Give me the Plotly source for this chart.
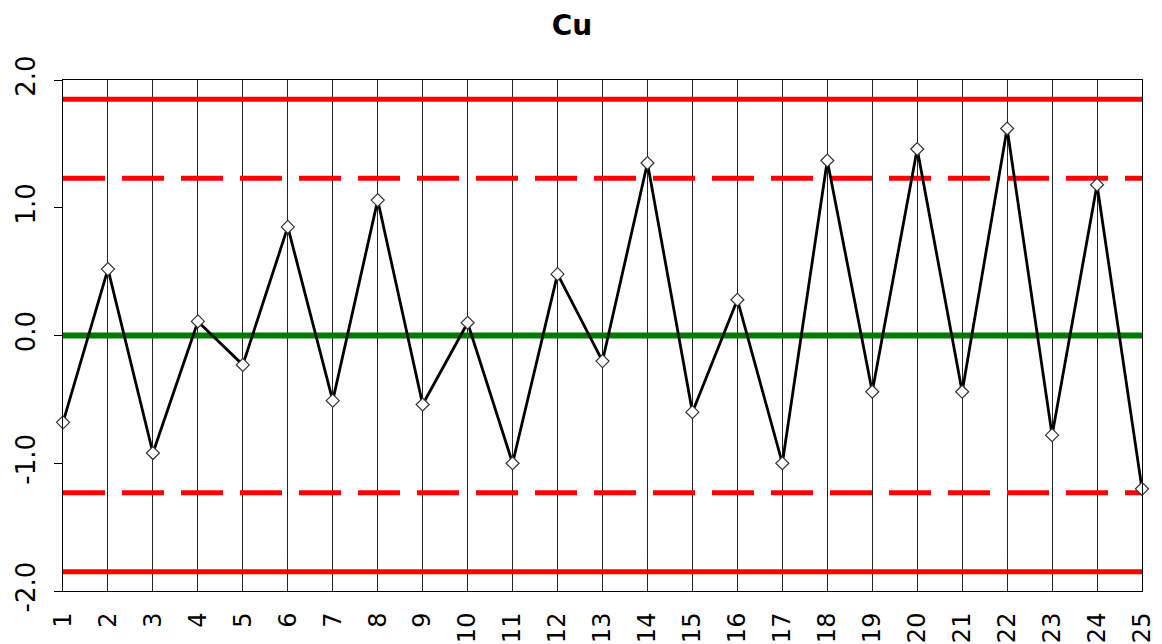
import plotly.graph_objects as go

# Sample numbers and standardised Cu results
samples = list(range(1, 26))
cu_values = [-0.68, 0.52, -0.92, 0.11, -0.23, 0.85, -0.51, 1.06, -0.54, 0.10,
             -1.00, 0.48, -0.20, 1.35, -0.60, 0.28, -1.00, 1.37, -0.44, 1.46,
             -0.44, 1.62, -0.78, 1.18, -1.20]

# Control limits
center_line = 0.0
warning_limit = 1.23
action_limit = 1.85

x_tick_labels = [str(s) for s in samples]
y_tick_values = [2.0, 1.0, 0.0, -1.0, -2.0]
y_tick_labels = ["2.0", "1.0", "0.0", "-1.0", "-2.0"]

font_family = "DejaVu Sans"
x_span = [samples[0], samples[-1]]

fig = go.Figure()

# Action limits (solid red)
for lim in (action_limit, -action_limit):
    fig.add_trace(go.Scatter(x=x_span, y=[lim, lim], mode="lines",
                             line=dict(color="#ff0000", width=5),
                             hoverinfo="skip", showlegend=False))

# Warning limits (dashed red)
for lim in (warning_limit, -warning_limit):
    fig.add_trace(go.Scatter(x=x_span, y=[lim, lim], mode="lines",
                             line=dict(color="#ff0000", width=5, dash="42px,17px"),
                             hoverinfo="skip", showlegend=False))

# Centre line (green)
fig.add_trace(go.Scatter(x=x_span, y=[center_line, center_line], mode="lines",
                         line=dict(color="#007a00", width=6),
                         hoverinfo="skip", showlegend=False))

# Measured values
fig.add_trace(go.Scatter(x=samples, y=cu_values, mode="lines+markers",
                         line=dict(color="#000000", width=2.8),
                         marker=dict(symbol="diamond", size=10, color="#ffffff",
                                     line=dict(color="#333333", width=1.2)),
                         cliponaxis=False, showlegend=False))

fig.update_layout(
    width=1162, height=644,
    margin=dict(l=63, r=20, t=80, b=53),
    paper_bgcolor="#ffffff", plot_bgcolor="#ffffff",
    font=dict(family=font_family, color="#000000"),
    title=dict(text="<b>Cu</b>", x=572 / 1162, xref="container", xanchor="center",
               y=1 - 25 / 644, yref="container", yanchor="middle",
               font=dict(family=font_family, size=28, color="#000000")),
    showlegend=False,
)

fig.update_xaxes(
    range=x_span, tickmode="array", tickvals=samples, ticktext=x_tick_labels,
    tickangle=-90, tickfont=dict(size=24, family=font_family),
    ticklabelstandoff=11, automargin=False,
    showgrid=True, gridcolor="#222222", gridwidth=1,
    showline=True, linecolor="#000000", linewidth=1, mirror=True,
    ticks="", zeroline=False,
)
fig.update_yaxes(
    range=[-2, 2], tickmode="array", tickvals=y_tick_values, ticktext=y_tick_labels,
    tickangle=-90, tickfont=dict(size=26, family=font_family),
    ticklabelstandoff=9, automargin=False,
    showgrid=False, zeroline=False,
    showline=True, linecolor="#000000", linewidth=1, mirror=True,
    ticks="outside", ticklen=8, tickcolor="#000000",
)

fig.write_html("out.html")
